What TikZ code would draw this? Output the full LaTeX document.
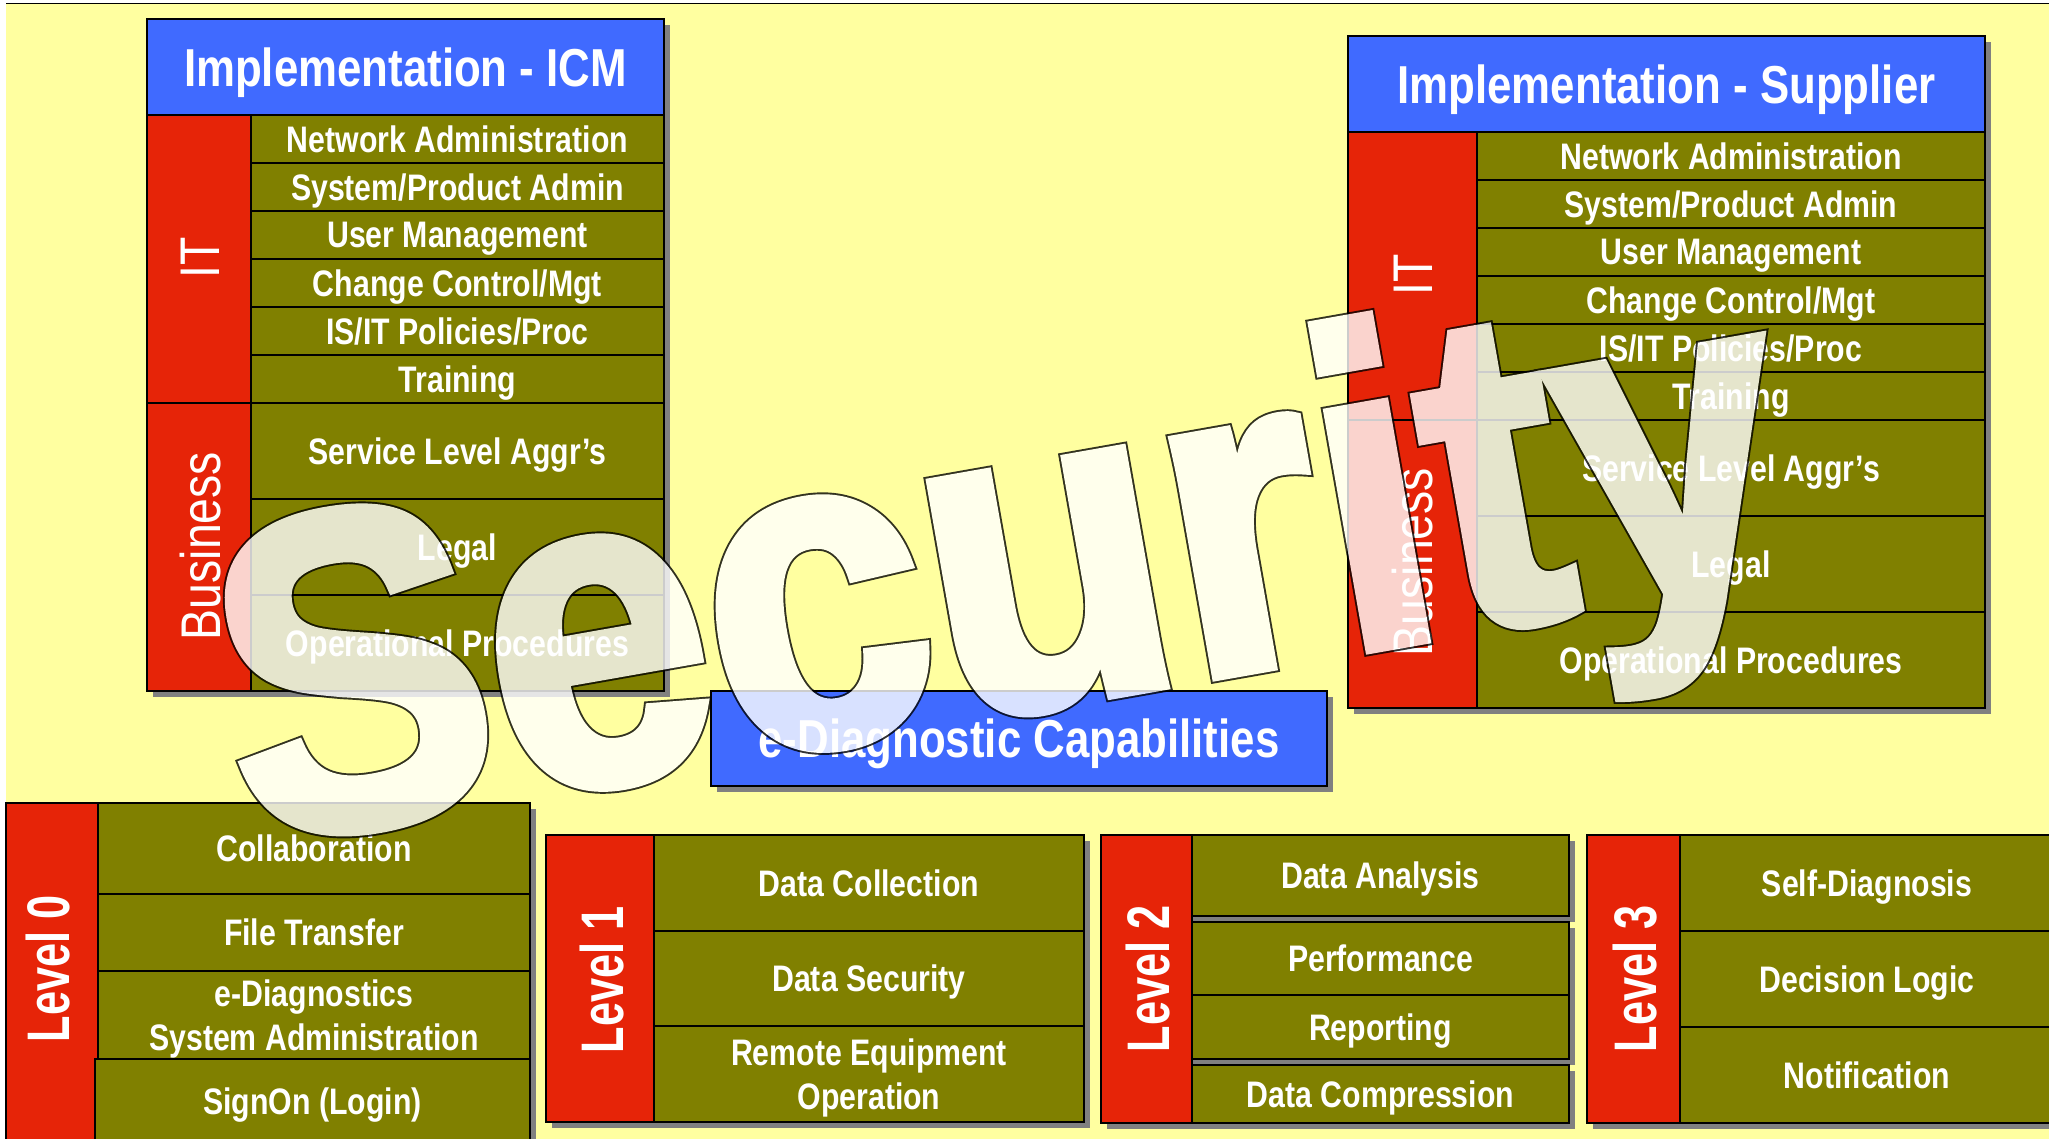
\documentclass[tikz,border=0pt]{standalone}
\usepackage{fontspec}
\setmainfont{Liberation Sans}
\newfontfamily\lblfont[FakeStretch=0.82]{Liberation Sans Bold}
\newfontfamily\hdrfont[FakeStretch=0.82]{Liberation Sans Bold}
\newfontfamily\sidefont[FakeStretch=0.83]{Liberation Sans}
\newfontfamily\lvlfont[FakeStretch=0.72]{Liberation Sans Bold}
\newfontfamily\secfont[FakeStretch=0.887,FakeBold=2.5]{Liberation Sans Bold}
\newfontfamily\secedge[FakeStretch=0.887,FakeBold=3.35]{Liberation Sans Bold}
\usetikzlibrary{shadows}

\definecolor{paper}{RGB}{255,255,160}
\definecolor{olivebox}{RGB}{128,128,0}
\definecolor{redbox}{RGB}{230,36,8}
\definecolor{bluebox}{RGB}{64,106,255}
\definecolor{shadowgray}{RGB}{128,128,128}

\newcommand\outlined[1]{\rlap{\color{black}\secedge#1}#1}

\begin{document}
\begin{tikzpicture}[x=0.1mm,y=-0.1mm,
    cell/.style n args={4}{at={({(#1+#3)/2},{(#2+#4)/2})},minimum width={(#3-#1)*0.1mm},minimum height={(#4-#2)*0.1mm}},
    boxed/.style={draw=black,line width=0.8pt,inner sep=0pt,outer sep=0pt,drop shadow={shadow xshift=0.6mm,shadow yshift=-0.6mm,fill=shadowgray,opacity=1}},
    itembox/.style={boxed,fill=olivebox,text=white,align=center,text depth=0pt,font=\lblfont\fontsize{10.5}{12.7}\selectfont},
    headbox/.style={boxed,fill=bluebox,text=white,text depth=0pt,font=\hdrfont\fontsize{15.2}{18}\selectfont},
    sidebox/.style={boxed,fill=redbox},
    sidetext/.style={rotate=90,text=white,inner sep=0pt,font=\sidefont\fontsize{15.9}{18}\selectfont},
    leveltext/.style={rotate=90,text=white,inner sep=0pt,font=\lvlfont\fontsize{17.1}{20}\selectfont},
    wordart/.style={rotate=10,anchor=base west,text=white,inner sep=0pt,font=\secfont\fontsize{128.4}{130}\selectfont}]
  \useasboundingbox (0,0) rectangle (2049,1139);
  \fill[white] (0,0) rectangle (2049,1139);
  \fill[paper] (6,4) rectangle (2049,1139);
  \draw[line width=0.2mm] (6,3.5) -- (2049,3.5);

  \node[headbox,cell={147}{19}{664}{115}] (icmhead) {Implementation - ICM};
  \node[sidebox,cell={147}{115}{251}{403}] (icmit) {};
  \node[sidebox,cell={147}{403}{251}{691}] (icmbus) {};
  \node[itembox,cell={251}{115}{664}{163}] (icmnet) {Network Administration};
  \node[itembox,cell={251}{163}{664}{211}] (icmsys) {System/Product Admin};
  \node[itembox,cell={251}{211}{664}{259}] (icmuser) {User Management};
  \node[itembox,cell={251}{259}{664}{307}] (icmchange) {Change Control/Mgt};
  \node[itembox,cell={251}{307}{664}{355}] (icmpol) {IS/IT Policies/Proc};
  \node[itembox,cell={251}{355}{664}{403}] (icmtrain) {Training};
  \node[itembox,cell={251}{403}{664}{499}] (icmsla) {Service Level Aggr’s};
  \node[itembox,cell={251}{499}{664}{595}] (icmlegal) {Legal};
  \node[itembox,cell={251}{595}{664}{691}] (icmops) {Operational Procedures};
  \node[sidetext] (icmittext) at (200,258) {IT};
  \node[sidetext] (icmbustext) at (201,546) {Business};

  \node[headbox,cell={1348}{36}{1985}{132}] (suphead) {Implementation - Supplier};
  \node[sidebox,cell={1348}{132}{1477}{420}] (supit) {};
  \node[sidebox,cell={1348}{420}{1477}{708}] (supbus) {};
  \node[itembox,cell={1477}{132}{1985}{180}] (supnet) {Network Administration};
  \node[itembox,cell={1477}{180}{1985}{228}] (supsys) {System/Product Admin};
  \node[itembox,cell={1477}{228}{1985}{276}] (supuser) {User Management};
  \node[itembox,cell={1477}{276}{1985}{324}] (supchange) {Change Control/Mgt};
  \node[itembox,cell={1477}{324}{1985}{372}] (suppol) {IS/IT Policies/Proc};
  \node[itembox,cell={1477}{372}{1985}{420}] (suptrain) {Training};
  \node[itembox,cell={1477}{420}{1985}{516}] (supsla) {Service Level Aggr’s};
  \node[itembox,cell={1477}{516}{1985}{612}] (suplegal) {Legal};
  \node[itembox,cell={1477}{612}{1985}{708}] (supops) {Operational Procedures};
  \node[sidetext] (supittext) at (1413,275) {IT};
  \node[sidetext] (supbustext) at (1413,562) {Business};

  \node[headbox,cell={711}{691}{1327}{786}] (ediag) {e-Diagnostic Capabilities};

  \node[sidebox,cell={6}{803}{98}{1144}] (lvl0) {};
  \node[itembox,cell={98}{803}{530}{894}] (lvl0collab) {Collaboration};
  \node[itembox,cell={98}{894}{530}{971}] (lvl0file) {File Transfer};
  \node[itembox,cell={98}{971}{530}{1059}] (lvl0admin) {e-Diagnostics\\System Administration};
  \node[itembox,cell={95}{1059}{530}{1144}] (lvl0sign) {SignOn (Login)};
  \node[leveltext] (lvl0text) at (48,969) {Level 0};

  \node[sidebox,cell={546}{835}{654}{1122}] (lvl1) {};
  \node[itembox,cell={654}{835}{1084}{931}] (lvl1collect) {Data Collection};
  \node[itembox,cell={654}{931}{1084}{1026}] (lvl1secure) {Data Security};
  \node[itembox,cell={654}{1026}{1084}{1122}] (lvl1remote) {Remote Equipment\\Operation};
  \node[leveltext] (lvl1text) at (602,980) {Level 1};

  \node[sidebox,cell={1101}{835}{1192}{1123}] (lvl2) {};
  \node[itembox,cell={1192}{835}{1569}{916}] (lvl2analysis) {Data Analysis};
  \node[itembox,cell={1192}{922}{1569}{995}] (lvl2perf) {Performance};
  \node[itembox,cell={1192}{995}{1569}{1059}] (lvl2report) {Reporting};
  \node[itembox,cell={1192}{1065}{1569}{1123}] (lvl2compress) {Data Compression};
  \node[leveltext] (lvl2text) at (1148,979) {Level 2};

  \node[sidebox,cell={1587}{835}{1680}{1123}] (lvl3) {};
  \node[itembox,cell={1680}{835}{2054}{931}] (lvl3self) {Self-Diagnosis};
  \node[itembox,cell={1680}{931}{2054}{1027}] (lvl3logic) {Decision Logic};
  \node[itembox,cell={1680}{1027}{2054}{1123}] (lvl3notify) {Notification};
  \node[leveltext] (lvl3text) at (1635,979) {Level 3};

  \begin{scope}[transparency group,opacity=0.8]
    \node[wordart] (security) at (247,846.3) {\outlined{Security}};
  \end{scope}
\end{tikzpicture}
\end{document}
